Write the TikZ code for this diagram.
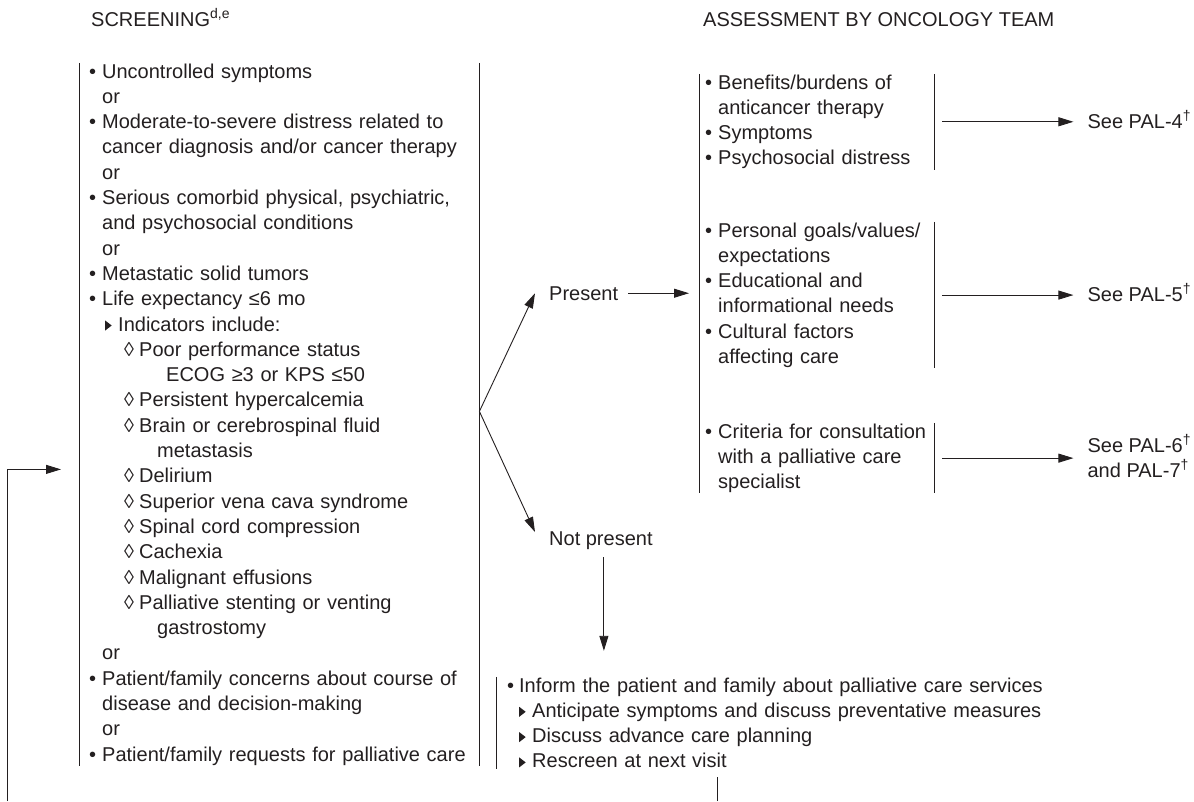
\documentclass[tikz,border=0pt]{standalone}
\usepackage{fontspec}
\setmainfont{Liberation Sans}
\usetikzlibrary{positioning,arrows.meta}
\definecolor{ink}{HTML}{231F20}

% list marks
\newcommand\bul{\makebox[13pt][l]{•}}
\newcommand\cont{\hspace*{13pt}}
\newcommand\tri[1]{\hspace*{#1}\makebox[13pt][l]{\tikz[baseline=0pt]\fill[ink] (0pt,0.5pt) -- (0pt,10.5pt) -- (6.5pt,5.5pt) -- cycle;}}
\newcommand\loz{\hspace*{35pt}\makebox[15pt][l]{◊}}
\newcommand\sups[1]{\smash{\raisebox{8pt}{\fontsize{14}{14}\selectfont #1}}}

\begin{document}
\begin{tikzpicture}[x=1pt, y=-1pt,
    txt/.style={font=\fontsize{20}{25.3}\selectfont, text=ink, inner sep=0pt},
    blk/.style={txt, align=left, inner ysep=0.5pt},
    lbl/.style={txt, inner xsep=10pt, inner ysep=2pt},
    bar/.style={draw=ink, line width=0.9pt},
    arrow/.style={ink, line width=0.9pt, ->, >={Triangle[length=15pt, width=9pt]}},
    line/.style={ink, line width=0.9pt}
  ]
    \useasboundingbox (0,0) rectangle (1194,801);

    % Headers
    \node[txt, anchor=base west] (scrhead) at (91,26) {SCREENING\sups{d,e}};
    \node[txt, anchor=base west] (asshead) at (703,26) {ASSESSMENT BY ONCOLOGY TEAM};

    % Screening block
    \node[blk, anchor=base west, inner xsep=10pt, text width=380pt] (scr) at (79,78) {%
      \bul Uncontrolled symptoms\\
      \cont or\\
      \bul Moderate-to-severe distress related to\\
      \cont cancer diagnosis and/or cancer therapy\\
      \cont or\\
      \bul Serious comorbid physical, psychiatric,\\
      \cont and psychosocial conditions\\
      \cont or\\
      \bul Metastatic solid tumors\\
      \bul Life expectancy ≤6 mo\\
      \tri{16pt}Indicators include:\\
      \loz Poor performance status\\
      \hspace*{77pt}ECOG ≥3 or KPS ≤50\\
      \loz Persistent hypercalcemia\\
      \loz Brain or cerebrospinal fluid\\
      \hspace*{68pt}metastasis\\
      \loz Delirium\\
      \loz Superior vena cava syndrome\\
      \loz Spinal cord compression\\
      \loz Cachexia\\
      \loz Malignant effusions\\
      \loz Palliative stenting or venting\\
      \hspace*{68pt}gastrostomy\\
      \cont or\\
      \bul Patient/family concerns about course of\\
      \cont disease and decision-making\\
      \cont or\\
      \bul Patient/family requests for palliative care};

    % Assessment blocks
    \node[blk, anchor=base west, inner xsep=6pt, text width=223pt] (grp1) at (699,89) {%
      \bul Benefits/burdens of\\
      \cont anticancer therapy\\
      \bul Symptoms\\
      \bul Psychosocial distress};
    \node[blk, anchor=base west, inner xsep=6pt, text width=223pt] (grp2) at (699,237) {%
      \bul Personal goals/values/\\
      \cont expectations\\
      \bul Educational and\\
      \cont informational needs\\
      \bul Cultural factors\\
      \cont affecting care};
    \node[blk, anchor=base west, inner xsep=6pt, text width=223pt] (grp3) at (699,438) {%
      \bul Criteria for consultation\\
      \cont with a palliative care\\
      \cont specialist};

    % Not present block
    \node[blk, anchor=base west, inner xsep=11pt, text width=560pt] (info) at (496,692) {%
      \makebox[12pt][l]{•}Inform the patient and family about palliative care services\\
      \tri{12pt}Anticipate symptoms and discuss preventative measures\\
      \tri{12pt}Discuss advance care planning\\
      \tri{12pt}Rescreen at next visit};

    % Labels
    \node[lbl, anchor=base west] (pres) at (539,300) {Present};
    \node[lbl, anchor=base west] (npres) at (539,545) {Not present};
    \node[lbl, right=143pt of grp1] (see4) {See PAL-4\sups{†}};
    \node[lbl, right=143pt of grp2] (see5) {See PAL-5\sups{†}};
    \node[lbl, align=left, right=143pt of grp3] (see67) {See PAL-6\sups{†}\\and PAL-7\sups{†}};

    % Bars
    \draw[bar] (scr.north west) -- (scr.south west);
    \draw[bar] (scr.north east) -- (scr.south east);
    \draw[bar] (grp1.north west) -- (grp3.south west);
    \foreach \g in {grp1,grp2,grp3}
      \draw[bar] (\g.north east) -- (\g.south east);
    \draw[bar] (info.north west) -- (info.south west);

    % Connections
    \coordinate (fork) at ([yshift=3pt]scr.east);
    \draw[arrow] (fork) -- ([xshift=-4pt]pres.west);
    \draw[arrow] (fork) -- ([xshift=-4pt,yshift=-3pt]npres.north west);
    \draw[arrow, shorten >=10pt] (pres.east) -- (pres.east -| grp2.west);
    \foreach \g/\s in {grp1/see4,grp2/see5,grp3/see67}
      \draw[arrow, shorten <=8pt, shorten >=4pt] (\g.east) -- (\s.west);
    \draw[arrow, shorten <=6pt, shorten >=26pt] ([xshift=3pt]npres.south) -- ([xshift=3pt]npres.south |- info.north);

    % Rescreen loop
    \coordinate (reentry) at (7,801);
    \coordinate (rescreen) at (717,801);
    \draw[arrow] (reentry) |- ([shift={(-18pt,-55pt)}]scr.west);
    \draw[line] (rescreen) -- ++(0,-24);
\end{tikzpicture}
\end{document}
